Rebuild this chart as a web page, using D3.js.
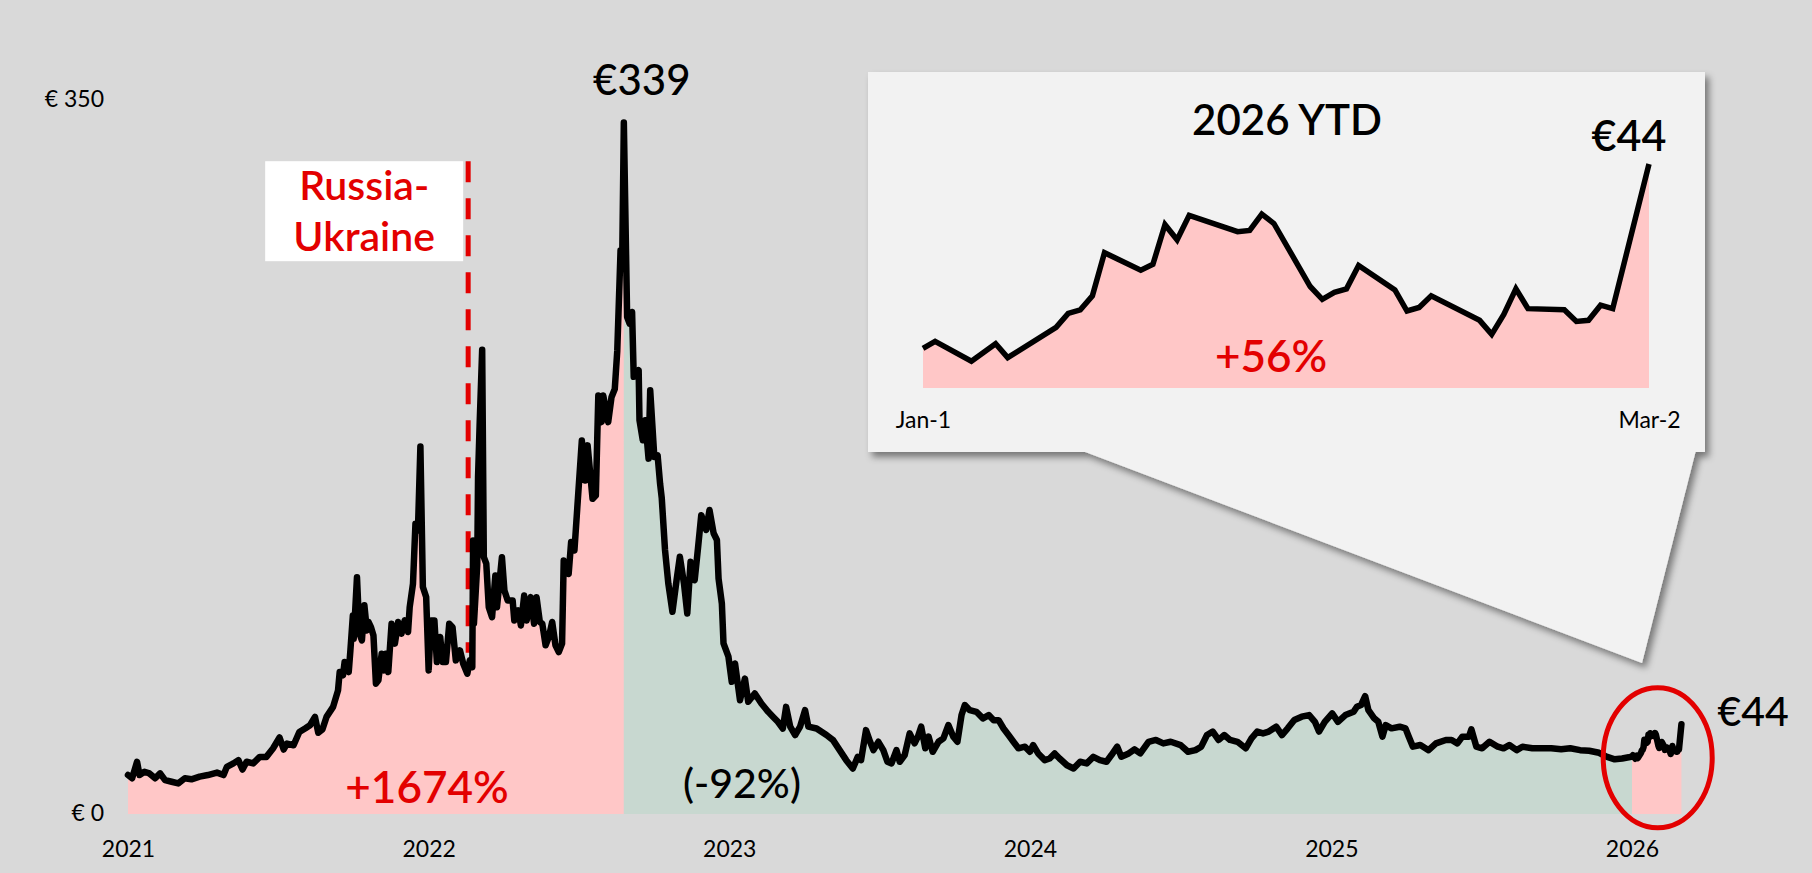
<!DOCTYPE html>
<html><head><meta charset="utf-8">
<script src="https://cdn.jsdelivr.net/npm/d3@7"></script>
<style>
html,body{margin:0;padding:0;background:#d9d9d9;}
svg{display:block;font-family:Lato,"Open Sans",sans-serif;}
</style></head><body>
<svg id="chart" width="1812" height="873"></svg>
<script>
// ---------- DATA (EUR / MWh) ----------
const gas2021 = [["2021-01-01",19.1],["2021-01-06",17.5],["2021-01-12",25.6],["2021-01-15",19.1],["2021-01-21",20.7],["2021-01-27",19.9],["2021-02-03",17.5],["2021-02-09",19.9],["2021-02-15",16.6],["2021-02-23",15.8],["2021-03-03",15.0],["2021-03-11",17.5],["2021-03-19",17.0],["2021-03-29",18.3],["2021-04-08",19.1],["2021-04-19",20.3],["2021-04-27",19.1],["2021-05-01",23.1],["2021-05-09",24.8],["2021-05-15",26.4],["2021-05-20",21.8],["2021-05-25",25.6],["2021-06-02",24.8],["2021-06-10",28.0],["2021-06-18",28.0],["2021-06-26",32.1],["2021-07-04",37.5],["2021-07-09",31.6],["2021-07-13",34.5],["2021-07-21",33.7],["2021-07-28",40.2],["2021-08-04",41.9],["2021-08-10",43.5],["2021-08-16",47.6],["2021-08-20",39.8],["2021-08-25",41.4],["2021-08-30",47.6],["2021-09-07",52.5],["2021-09-13",60.6],["2021-09-15",69.6],["2021-09-19",68.0],["2021-09-21",74.5],["2021-09-26",69.6],["2021-09-28",80.2],["2021-10-01",97.3],["2021-10-02",85.9],["2021-10-06",116.1],["2021-10-09",88.4],["2021-10-12",85.1],["2021-10-15",102.3],["2021-10-18",90.0],["2021-10-20",94.1],["2021-10-23",91.6],["2021-10-26",87.5],["2021-10-29",63.9],["2021-11-01",65.5],["2021-11-05",78.6],["2021-11-08",70.4],["2021-11-10",78.6],["2021-11-13",69.6],["2021-11-17",93.3],["2021-11-21",83.5],["2021-11-25",94.1],["2021-11-29",88.4],["2021-12-03",94.9],["2021-12-07",89.2],["2021-12-09",101.4],["2021-12-13",112.9],["2021-12-16",142.3],["2021-12-19",139.0],["2021-12-22",180.2],["2021-12-25",111.3],["2021-12-29",106.4]];

const gas2022 = [["2022-01-01",70.4],["2022-01-04",94.9],["2022-01-08",94.9],["2022-01-11",74.5],["2022-01-15",86.8],["2022-01-18",74.5],["2022-01-22",74.5],["2022-01-26",93.3],["2022-01-30",91.6],["2022-02-03",75.3],["2022-02-08",80.2],["2022-02-12",73.7],["2022-02-17",68.8],["2022-02-20",75.3],["2022-02-23",72.0],["2022-02-24",134.1],["2022-02-25",93.3],["2022-03-01",122.0],["2022-03-02",165.2],["2022-03-04",192.0],["2022-03-07",227.6],["2022-03-09",125.9],["2022-03-12",122.7],["2022-03-15",101.4],["2022-03-19",96.5],["2022-03-23",116.9],["2022-03-25",101.4],["2022-03-31",125.9],["2022-04-03",109.6],["2022-04-07",104.7],["2022-04-13",104.7],["2022-04-15",94.9],["2022-04-20",99.8],["2022-04-23",92.4],["2022-04-27",107.1],["2022-04-30",94.9],["2022-05-05",106.3],["2022-05-09",93.3],["2022-05-12",106.3],["2022-05-16",94.1],["2022-05-19",93.3],["2022-05-23",82.7],["2022-05-27",86.8],["2022-05-31",94.1],["2022-06-04",82.7],["2022-06-08",79.4],["2022-06-12",83.5],["2022-06-14",124.3],["2022-06-20",117.7],["2022-06-23",133.3],["2022-06-27",129.2],["2022-07-03",165.2],["2022-07-06",183.1],["2022-07-10",163.5],["2022-07-13",180.7],["2022-07-19",154.5],["2022-07-23",156.1],["2022-07-26",205.1],["2022-07-30",192.1],["2022-08-01",205.1],["2022-08-07",192.1],["2022-08-11",204.3],["2022-08-15",208.3],["2022-08-18",227.0],["2022-08-22",276.3],["2022-08-24",271.4],["2022-08-26",339.0],["2022-08-30",243.6],["2022-09-02",240.4],["2022-09-05",246.1],["2022-09-07",214.3],["2022-09-13",217.5],["2022-09-14",193.0],["2022-09-18",183.2],["2022-09-21",193.0],["2022-09-25",174.2],["2022-09-27",207.7],["2022-10-02",175.0],["2022-10-06",175.8],["2022-10-09",161.9],["2022-10-11",155.0],["2022-10-15",129.4],["2022-10-19",113.0],["2022-10-24",99.1],["2022-10-29",114.6],["2022-11-02",126.1],["2022-11-07",113.0],["2022-11-11",98.3],["2022-11-15",123.6],["2022-11-20",114.6],["2022-11-24",130.2],["2022-11-28",146.5],["2022-12-04",139.2],["2022-12-08",149.0],["2022-12-13",137.6],["2022-12-17",134.3],["2022-12-19",115.4],["2022-12-23",103.2],["2022-12-25",83.6],["2022-12-31",77.1]];

const gas2023 = [["2023-01-04",64.8],["2023-01-08",73.8],["2023-01-14",55.8],["2023-01-20",66.4],["2023-01-24",55.0],["2023-02-01",59.1],["2023-02-09",54.2],["2023-02-17",50.2],["2023-02-23",47.7],["2023-03-01",45.2],["2023-03-07",41.9],["2023-03-11",52.5],["2023-03-16",42.8],["2023-03-22",38.7],["2023-03-28",42.8],["2023-04-03",50.9],["2023-04-07",42.8],["2023-04-17",41.9],["2023-04-29",38.7],["2023-05-07",36.2],["2023-05-15",31.3],["2023-05-23",26.4],["2023-05-31",22.3],["2023-06-06",28.0],["2023-06-10",26.4],["2023-06-16",41.1],["2023-06-21",35.4],["2023-06-25",31.3],["2023-07-01",35.4],["2023-07-07",31.3],["2023-07-12",25.6],["2023-07-17",24.8],["2023-07-23",31.3],["2023-07-27",25.6],["2023-08-02",28.9],["2023-08-08",39.5],["2023-08-14",34.6],["2023-08-18",37.9],["2023-08-22",42.8],["2023-08-27",32.2],["2023-08-31",37.9],["2023-09-05",30.5],["2023-09-12",35.4],["2023-09-18",37.1],["2023-09-24",43.6],["2023-09-30",37.9],["2023-10-05",35.4],["2023-10-10",48.5],["2023-10-14",53.4],["2023-10-20",50.9],["2023-10-28",50.1],["2023-11-05",46.9],["2023-11-12",48.5],["2023-11-18",46.0],["2023-11-24",46.0],["2023-11-30",41.9],["2023-12-06",38.7],["2023-12-12",35.4],["2023-12-18",32.2],["2023-12-26",33.0]];

const gas2024 = [["2024-01-01",30.5],["2024-01-05",33.8],["2024-01-11",29.7],["2024-01-19",26.4],["2024-01-25",27.2],["2024-01-31",29.7],["2024-02-06",27.2],["2024-02-15",23.9],["2024-02-23",22.3],["2024-03-02",25.6],["2024-03-10",24.8],["2024-03-18",28.0],["2024-03-26",26.4],["2024-04-03",25.6],["2024-04-09",28.9],["2024-04-16",33.0],["2024-04-21",28.1],["2024-04-30",29.7],["2024-05-07",31.7],["2024-05-14",29.7],["2024-05-24",35.4],["2024-06-02",36.3],["2024-06-11",34.6],["2024-06-20",35.4],["2024-07-02",33.8],["2024-07-11",30.5],["2024-07-20",31.3],["2024-07-27",33.0],["2024-08-03",38.7],["2024-08-10",40.4],["2024-08-17",36.3],["2024-08-24",38.7],["2024-08-31",36.3],["2024-09-09",35.4],["2024-09-19",32.2],["2024-09-26",37.1],["2024-10-03",40.4],["2024-10-10",39.5],["2024-10-17",40.4],["2024-10-26",42.8],["2024-11-02",38.7],["2024-11-09",42.0],["2024-11-17",46.1],["2024-11-26",47.7],["2024-12-05",48.5],["2024-12-12",45.2],["2024-12-17",40.4],["2024-12-24",45.2]];

const gas2025 = [["2025-01-02",49.3],["2025-01-09",45.2],["2025-01-18",48.5],["2025-01-28",50.1],["2025-02-01",52.6],["2025-02-06",53.4],["2025-02-11",57.8],["2025-02-15",50.9],["2025-02-22",46.9],["2025-02-27",45.2],["2025-03-04",37.9],["2025-03-08",43.6],["2025-03-15",42.0],["2025-03-25",42.8],["2025-04-01",42.0],["2025-04-05",37.9],["2025-04-10",33.0],["2025-04-19",33.8],["2025-04-29",31.3],["2025-05-08",34.6],["2025-05-20",36.3],["2025-05-27",36.3],["2025-06-03",34.6],["2025-06-09",37.9],["2025-06-17",37.9],["2025-06-20",41.5],["2025-06-26",33.0],["2025-07-03",32.2],["2025-07-12",35.4],["2025-07-22",33.0],["2025-07-29",32.2],["2025-08-05",33.8],["2025-08-14",31.3],["2025-08-21",33.0],["2025-09-02",32.2],["2025-09-13",32.2],["2025-09-25",32.2],["2025-10-07",31.7],["2025-10-18",32.2],["2025-10-30",31.3],["2025-11-10",31.0],["2025-11-22",30.0],["2025-12-01",28.1],["2025-12-11",26.8],["2025-12-20",27.2],["2025-12-28",27.8]];

const ytd2026 = [["2026-01-01",28.2],["2026-01-02",28.8],["2026-01-05",27.1],["2026-01-07",28.6],["2026-01-08",27.4],["2026-01-12",30.0],["2026-01-13",31.2],["2026-01-14",31.5],["2026-01-15",32.7],["2026-01-16",36.4],["2026-01-19",34.9],["2026-01-20",35.4],["2026-01-21",38.8],["2026-01-22",37.5],["2026-01-23",39.6],["2026-01-27",38.2],["2026-01-28",38.3],["2026-01-29",39.7],["2026-01-30",38.9],["2026-02-02",33.5],["2026-02-03",32.4],["2026-02-04",33.0],["2026-02-05",33.3],["2026-02-06",35.3],["2026-02-09",33.2],["2026-02-10",31.4],["2026-02-11",31.7],["2026-02-12",32.7],["2026-02-16",30.6],["2026-02-17",29.4],["2026-02-18",31.1],["2026-02-19",33.3],["2026-02-20",31.6],["2026-02-23",31.5],["2026-02-24",30.5],["2026-02-25",30.6],["2026-02-26",31.9],["2026-02-27",31.6],["2026-03-02",44.0]];

const yearTicks = ["2021-01-01","2022-01-01","2023-01-01","2024-01-01","2025-01-01","2026-01-01"];
const valueTicks = [0, 350];
const insetTicks = ["2026-01-01","2026-03-02"];
const peakPoint = ["2022-08-26", 339];
const lastPoint = ["2026-03-02", 44];
const eventMark = ["2022-02-18", 320, 79];        // date, top value, bottom value
const eventLabel = ["Russia-", "Ukraine"];
const changeLabels = ["+1674%", "(-92%)", "+56%"];
const insetTitle = "2026 YTD";

// ---------- SETUP ----------
const parse = d3.timeParse("%Y-%m-%d");
const toObj = ([d, v]) => ({date: parse(d), value: v});
const hist = [...gas2021, ...gas2022, ...gas2023, ...gas2024, ...gas2025].map(toObj);
const ytd = ytd2026.map(toObj);
const all = hist.concat(ytd);

const RED = "#e30000", PINK = "#ffc7c7", GREEN = "#c8d8d0";
const W = 600;
const svg = d3.select("#chart");

const defs = svg.append("defs");
const f = defs.append("filter").attr("id","shadow").attr("x","-10%").attr("y","-10%").attr("width","130%").attr("height","130%");
f.append("feDropShadow").attr("dx",4).attr("dy",5).attr("stdDeviation",3.5).attr("flood-color","#000").attr("flood-opacity",0.45);

const x = d3.scaleTime().domain([parse("2021-01-01"), parse("2026-01-01")]).range([128, 1632]);
const y = d3.scaleLinear().domain([0, 350]).range([814, 100]);

const peakDate = parse(peakPoint[0]);
const ytdStart = parse("2026-01-01");
const area = d3.area().x(d => x(d.date)).y0(y(0)).y1(d => y(d.value));
const line = d3.line().x(d => x(d.date)).y(d => y(d.value));

svg.append("path").datum(all.filter(d => d.date <= peakDate)).attr("d", area).attr("fill", PINK);
svg.append("path").datum(all.filter(d => d.date >= peakDate && d.date <= ytdStart)).attr("d", area).attr("fill", GREEN);
svg.append("path").datum(all.filter(d => d.date >= ytdStart)).attr("d", area).attr("fill", PINK);

// axes
const yAxis = svg.append("g").attr("transform","translate(110,0)")
  .call(d3.axisLeft(y).tickValues(valueTicks).tickSize(0).tickPadding(6).tickFormat(d => "€ " + d));
const xAxis = svg.append("g").attr("transform",`translate(0,${y(0)})`)
  .call(d3.axisBottom(x).tickValues(yearTicks.map(parse)).tickSize(0).tickPadding(27).tickFormat(d3.timeFormat("%Y")));
[yAxis, xAxis].forEach(g => {
  g.select(".domain").remove();
  g.selectAll("text").attr("font-family","Lato, sans-serif").attr("font-size",23).attr("fill","#000");
});
yAxis.selectAll("text").attr("dy","0.3em");

// event annotation
const ex = x(parse(eventMark[0]));
svg.append("rect").attr("x", ex - 203).attr("y", y(eventMark[1])).attr("width", 198).attr("height", 100).attr("fill","#fff");
svg.append("line").attr("x1", ex).attr("x2", ex).attr("y1", y(eventMark[1])).attr("y2", y(eventMark[2]))
  .attr("stroke", RED).attr("stroke-width", 5).attr("stroke-dasharray","21 16");
svg.append("text").attr("x", ex - 104).attr("y", y(eventMark[1]) + 39).attr("text-anchor","middle")
  .attr("font-size", 41).attr("font-weight", W).attr("fill", RED).text(eventLabel[0]);
svg.append("text").attr("x", ex - 104).attr("y", y(eventMark[1]) + 90).attr("text-anchor","middle")
  .attr("font-size", 41).attr("font-weight", W).attr("fill", RED).text(eventLabel[1]);

// main line
svg.append("path").datum(all).attr("d", line).attr("fill","none").attr("stroke","#000")
  .attr("stroke-width", 6.5).attr("stroke-linejoin","round").attr("stroke-linecap","round");

// labels on main chart
svg.append("text").attr("x", x(peakDate) + 18).attr("y", y(peakPoint[1]) - 27).attr("text-anchor","middle")
  .attr("font-size", 42).attr("font-weight", 500).text("€" + peakPoint[1]);
svg.append("text").attr("x", x(parse(lastPoint[0])) + 36).attr("y", y(lastPoint[1]) + 2)
  .attr("font-size", 41).attr("font-weight", 500).text("€" + lastPoint[1]);
svg.append("text").attr("x", 427).attr("y", 803).attr("text-anchor","middle")
  .attr("font-size", 44).attr("font-weight", W).attr("fill", RED).text(changeLabels[0]);
svg.append("text").attr("x", 742).attr("y", 798).attr("text-anchor","middle")
  .attr("font-size", 41).attr("font-weight", 500).attr("fill", "#000").text(changeLabels[1]);

// ellipse highlight around YTD
const ytdMid = new Date((ytdStart.getTime() + parse(lastPoint[0]).getTime()) / 2);
svg.append("ellipse").attr("cx", x(ytdMid) + 1).attr("cy", y(27.6)).attr("rx", 54.5).attr("ry", 70)
  .attr("fill","none").attr("stroke", RED).attr("stroke-width", 5);

// ---------- INSET ----------
const inset = svg.append("g");
const panel = inset.append("g").attr("filter","url(#shadow)");
panel.append("polygon").attr("points", "1080,450 1696,450 1642,663").attr("fill","#f2f2f2");
panel.append("rect").attr("x", 868).attr("y", 72).attr("width", 837).attr("height", 380).attr("fill","#f2f2f2");

const xi = d3.scaleTime().domain([parse(insetTicks[0]), parse(insetTicks[1])]).range([923, 1649]);
const yi = d3.scaleLinear().domain([24.8, 44]).range([388, 164]);
inset.append("path").datum(ytd).attr("d", d3.area().x(d => xi(d.date)).y0(yi(24.8)).y1(d => yi(d.value))).attr("fill", PINK);
inset.append("path").datum(ytd).attr("d", d3.line().x(d => xi(d.date)).y(d => yi(d.value)))
  .attr("fill","none").attr("stroke","#000").attr("stroke-width", 5.5).attr("stroke-linejoin","miter");

const xiAxis = inset.append("g").attr("transform","translate(0,388)")
  .call(d3.axisBottom(xi).tickValues(insetTicks.map(parse)).tickSize(0).tickPadding(24).tickFormat(d3.timeFormat("%b-%-d")));
xiAxis.select(".domain").remove();
xiAxis.selectAll("text").attr("font-family","Lato, sans-serif").attr("font-size",23).attr("fill","#000");

inset.append("text").attr("x", 1287).attr("y", 135).attr("text-anchor","middle")
  .attr("font-size", 42).attr("font-weight", W).text(insetTitle);
inset.append("text").attr("x", xi(parse(lastPoint[0])) - 20).attr("y", 151).attr("text-anchor","middle")
  .attr("font-size", 43).attr("font-weight", W).text("€" + lastPoint[1]);
inset.append("text").attr("x", 1271).attr("y", 372).attr("text-anchor","middle")
  .attr("font-size", 44).attr("font-weight", W).attr("fill", RED).text(changeLabels[2]);
</script>
</body></html>
